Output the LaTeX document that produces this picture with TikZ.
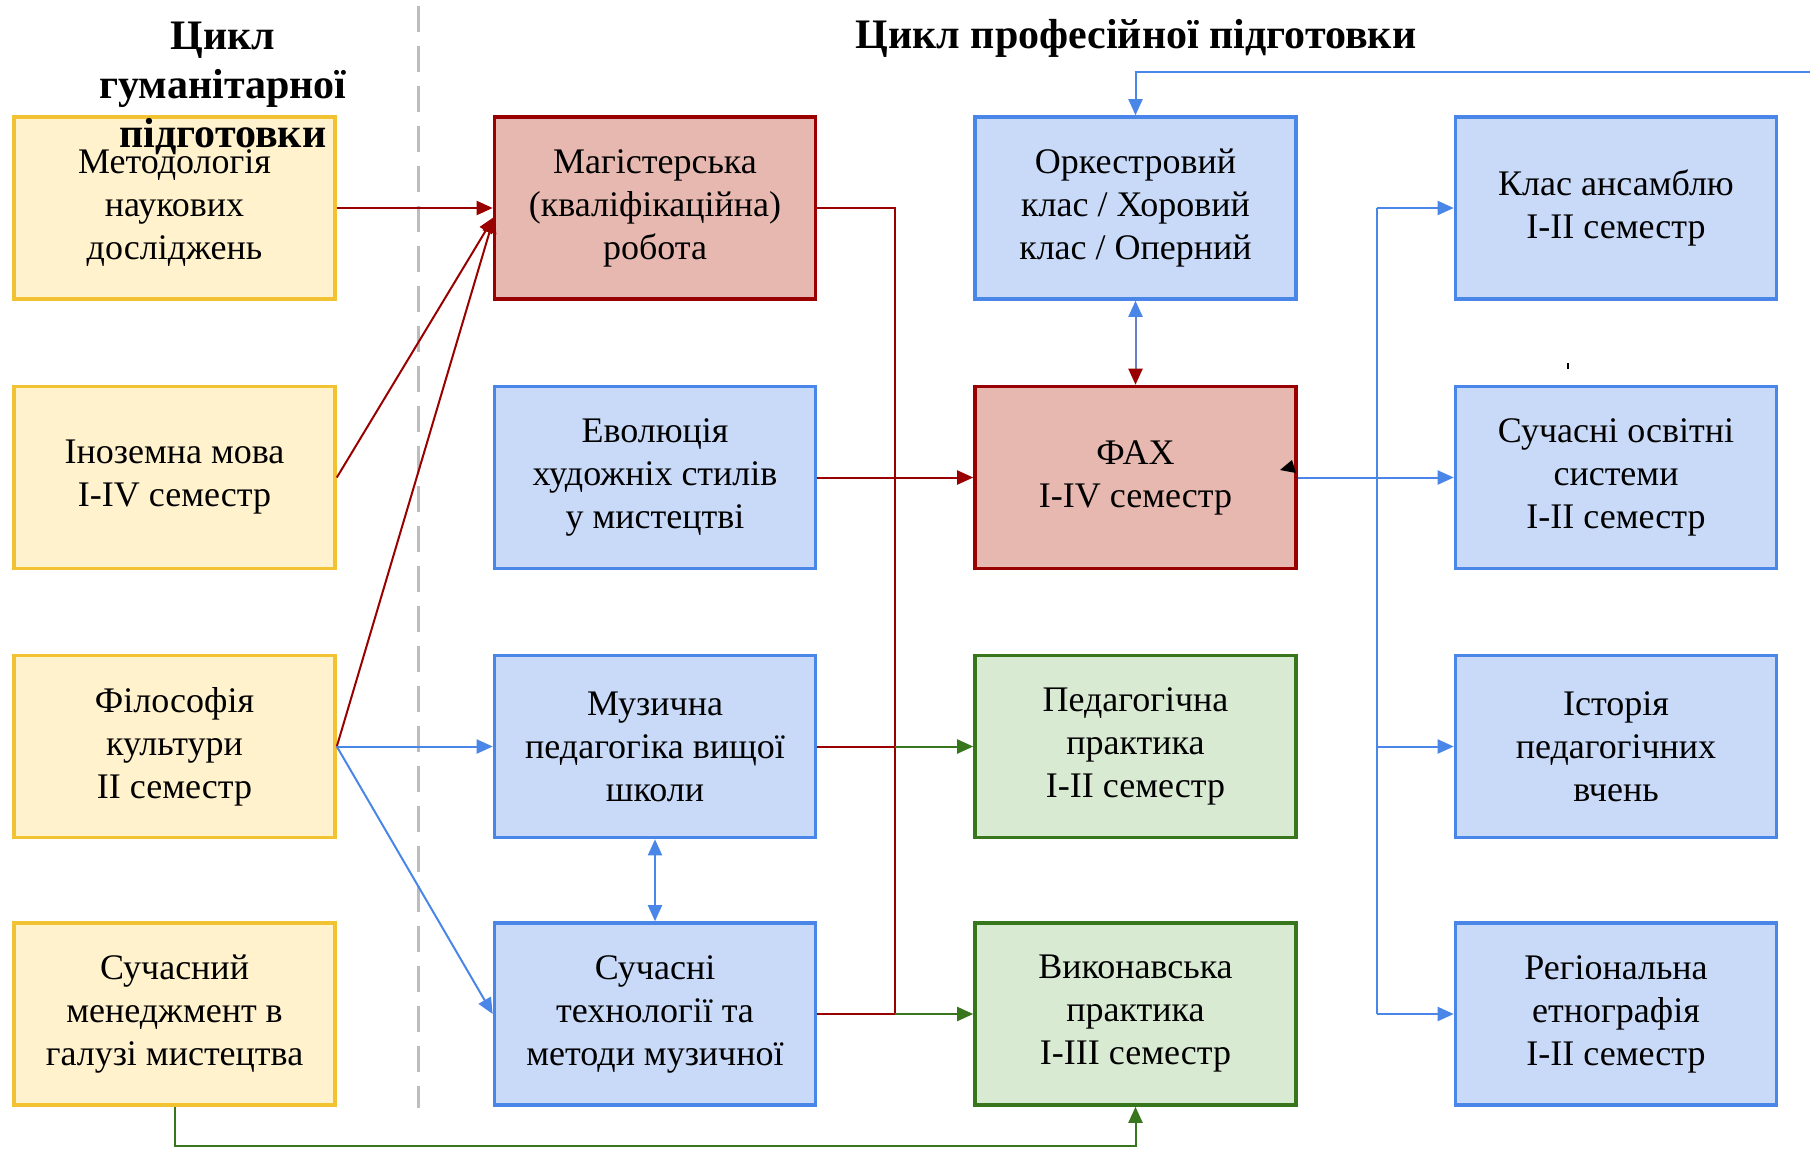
\documentclass[tikz,border=0pt]{standalone}
\usepackage{fontspec}
\setmainfont{Liberation Serif}
\usetikzlibrary{arrows.meta}
\definecolor{ylwF}{HTML}{FFF2CC}
\definecolor{ylwD}{HTML}{F1C232}
\definecolor{redF}{HTML}{E6B8AF}
\definecolor{redD}{HTML}{990000}
\definecolor{bluF}{HTML}{C9DAF8}
\definecolor{bluD}{HTML}{4A86E8}
\definecolor{grnF}{HTML}{D9EAD3}
\definecolor{grnD}{HTML}{38761D}
\definecolor{dashG}{HTML}{BDBDBD}
\definecolor{purL}{HTML}{6A7FC8}
\begin{document}
\begin{tikzpicture}[x=0.5pt,y=-0.5pt,
  box/.style={draw, line width=1.8pt, minimum width=160.5pt, minimum height=91pt,
    align=center, inner sep=0pt, font=\fontsize{18}{21.5}\selectfont},
  ybox/.style={box, fill=ylwF, draw=ylwD},
  rbox/.style={box, fill=redF, draw=redD},
  bbox/.style={box, fill=bluF, draw=bluD},
  gbox/.style={box, fill=grnF, draw=grnD},
  conn/.style={line width=1pt, -{Triangle[length=8pt,width=7pt]}},
  plain/.style={line width=1pt},
  ttl/.style={align=center, font=\fontsize{21}{24.5}\selectfont\bfseries}
]
\useasboundingbox (0,0) rectangle (1810,1148);

% dashed separator
\draw[dashG, line width=1.5pt, dash pattern=on 13pt off 7pt] (418,6) -- (418,1108);

% column 1 (humanities)
\node[ybox] (hum1) at (174.5,208)    {Методологія\\наукових\\досліджень};
\node[ybox] (hum2) at (174.5,477.5)  {Іноземна мова\\I-IV семестр};
\node[ybox] (hum3) at (174.5,746.5)  {Філософія\\культури\\II семестр};
\node[ybox] (hum4) at (174.5,1014)   {Сучасний\\менеджмент в\\галузі мистецтва};

% column 2
\node[rbox] (mag)  at (655,208)   {Магістерська\\(кваліфікаційна)\\робота};
\node[bbox] (evo)  at (655,477.5) {Еволюція\\художніх стилів\\у мистецтві};
\node[bbox] (mus)  at (655,746.5) {Музична\\педагогіка вищої\\школи};
\node[bbox] (tech) at (655,1014)  {Сучасні\\технології та\\методи музичної};

% column 3
\node[bbox] (ork) at (1135.5,208)   {Оркестровий\\клас / Хоровий\\клас / Оперний};
\node[rbox] (fax) at (1135.5,477.5) {ФАХ\\I-IV семестр};
\node[gbox] (ped) at (1135.5,746.5) {Педагогічна\\практика\\I-II семестр};
\node[gbox] (vyk) at (1135.5,1014)  {Виконавська\\практика\\I-III семестр};

% column 4
\node[bbox] (ans) at (1616,208)   {Клас ансамблю\\I-II семестр};
\node[bbox] (osv) at (1616,477.5) {Сучасні освітні\\системи\\I-II семестр};
\node[bbox] (ist) at (1616,746.5) {Історія\\педагогічних\\вчень};
\node[bbox] (reg) at (1616,1014)  {Регіональна\\етнографія\\I-II семестр};

% titles
\node[ttl] (t1) at (223,88) {Цикл\\гуманітарної\\підготовки};
\node[ttl] (t2) at (1136,38) {Цикл професійної підготовки};

% humanities -> Magisterska
\draw[conn, redD] (hum1.east) -- (mag.west);
\coordinate (magin) at (494,217);
\draw[conn, redD] (hum2.east) -- (magin);
\draw[conn, redD] (hum3.east) -- (magin);
% Filosofia -> blue boxes
\draw[conn, bluD] (hum3.east) -- (mus.west);
\draw[conn, bluD] (hum3.east) -- (tech.west);
% Muzychna <-> Suchasni tekhnologii
\draw[line width=1pt, bluD, {Triangle[length=8pt,width=7pt]}-{Triangle[length=8pt,width=7pt]}] (mus.south) -- (tech.north);

% red bus at x=895
\coordinate (busT) at (895,208);
\coordinate (busM) at (895,746.5);
\coordinate (busB) at (895,1014);
\draw[plain, redD] (mag.east) -- (busT) -- (busB) -- (tech.east);
\draw[plain, redD] (mus.east) -- (busM);
\draw[conn, grnD] (busM) -- (ped.west);
\draw[conn, grnD] (busB) -- (vyk.west);

% Evolutsia -> FAX
\draw[conn, redD] (evo.east) -- (fax.west);

% Orkestrovy <-> FAX
\draw[line width=1pt, purL, {Triangle[length=8pt,width=7pt,color=bluD]}-{Triangle[length=8pt,width=7pt,color=redD]}] (ork.south) -- (fax.north);

% top feedback line
\coordinate (topR) at (1810,72);
\draw[conn, bluD] (topR) -| (ork.north);

% FAX -> column 4
\draw[conn, bluD] (fax.east) -- (osv.west);
\coordinate (vbT) at (1377,208);
\coordinate (vbB) at (1377,1014);
\draw[plain, bluD] (vbT) -- (vbB);
\draw[conn, bluD] (vbT) -- (ans.west);
\draw[conn, bluD] (1377,746.5) -- (ist.west);
\draw[conn, bluD] (vbB) -- (reg.west);

% small black arrowhead at FAX
\fill[black] (1280,470) -- (1292,460) -- (1296,473) -- cycle;
% small mark above Suchasni osvitni
\draw[black, line width=1pt] (1568,363) -- (1568,369);

% bottom green line
\coordinate (botL) at (174.5,1146);
\coordinate (botR) at (1135.5,1146);
\draw[conn, grnD] (hum4.south) -- (botL) -- (botR) -- (vyk.south);
\end{tikzpicture}
\end{document}
